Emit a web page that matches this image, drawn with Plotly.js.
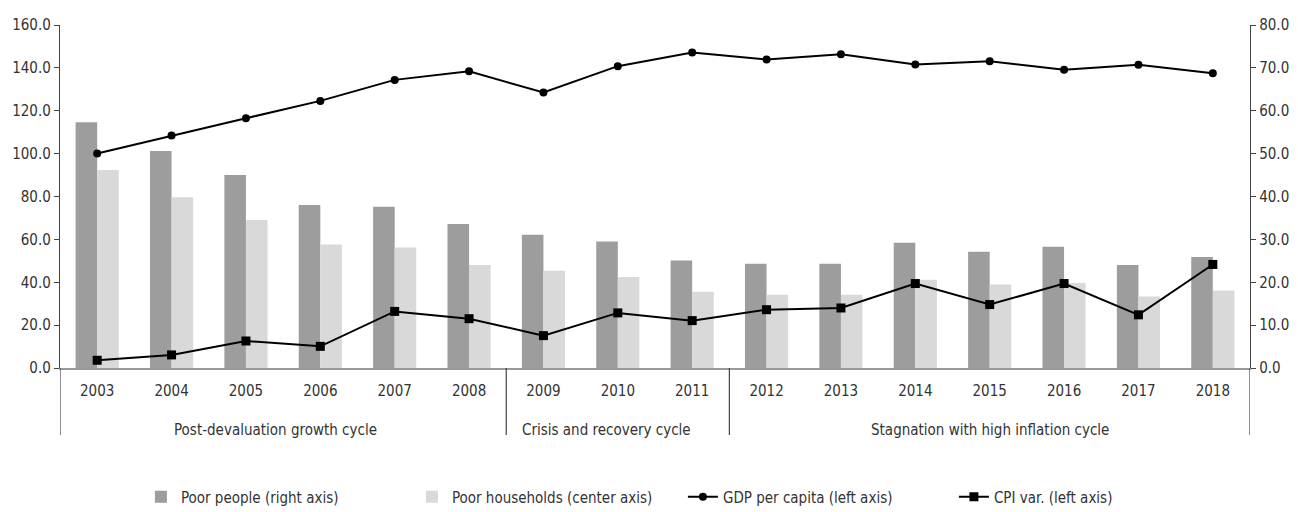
<!DOCTYPE html>
<html>
<head>
<meta charset="utf-8">
<script src="https://cdn.plot.ly/plotly-3.0.1.min.js"></script>
<style>
html,body{margin:0;padding:0;background:#fff;}
#chart{width:1298px;height:512px;}
</style>
</head>
<body>
<div id="chart"></div>
<script>
const years = ['2003','2004','2005','2006','2007','2008','2009','2010','2011','2012','2013','2014','2015','2016','2017','2018'];
const poorPeople = [57.3,50.6,45.0,38.0,37.6,33.6,31.1,29.5,25.1,24.3,24.3,29.2,27.1,28.3,24.0,25.9];
const poorHouseholds = [46.2,39.8,34.5,28.8,28.1,24.0,22.7,21.2,17.8,17.1,17.1,20.6,19.5,19.8,16.7,18.1];
const gdpPerCapita = [100.1,108.4,116.5,124.6,134.4,138.4,128.5,140.8,147.2,143.9,146.4,141.6,143.1,139.1,141.4,137.5];
const cpiVar = [3.6,6.1,12.6,10.1,26.4,23.0,15.1,25.7,22.1,27.2,28.0,39.4,29.6,39.4,24.8,48.3];
const cycles = [
  {label:'Post-devaluation growth cycle', center:2.4},
  {label:'Crisis and recovery cycle', center:6.85},
  {label:'Stagnation with high inflation cycle', center:12.0}
];
const separators = [-0.5, 5.5, 8.5, 15.5];

const FONT = '"Liberation Sans Narrow", "DejaVu Sans Condensed", "Roboto Condensed", sans-serif';
const TXT = '#333333';

const traces = [
  {type:'bar', name:'Poor people (right axis)', x:years, y:poorPeople, yaxis:'y',
   marker:{color:'#9d9d9d', line:{width:0}}},
  {type:'bar', name:'Poor households (center axis)', x:years, y:poorHouseholds, yaxis:'y',
   marker:{color:'#d9d9d9', line:{width:0}}},
  {type:'scatter', mode:'lines+markers', name:'GDP per capita (left axis)', x:years, y:gdpPerCapita, yaxis:'y2',
   line:{color:'#000', width:2}, marker:{symbol:'circle', size:8, color:'#000'}},
  {type:'scatter', mode:'lines+markers', name:'CPI var. (left axis)', x:years, y:cpiVar, yaxis:'y2',
   line:{color:'#000', width:2}, marker:{symbol:'square', size:9, color:'#000'}}
];

const shapes = separators.map(s => ({
  type:'line', xref:'x', yref:'paper', x0:s, x1:s, y0:0, y1:-0.195,
  line:{color:'#444', width:1.2}
}));

const annotations = cycles.map(c => ({
  xref:'x', yref:'paper', x:c.center, y:-0.181, text:c.label, showarrow:false,
  xanchor:'center', yanchor:'middle', font:{family:FONT, size:15, color:TXT}
}));

const layout = {
  width:1298, height:512,
  margin:{l:60, r:48, t:25, b:144, autoexpand:false},
  paper_bgcolor:'#fff', plot_bgcolor:'#fff',
  font:{family:FONT, size:15, color:TXT},
  barmode:'group', bargap:0.42, bargroupgap:0,
  showlegend:true,
  legend:{orientation:'h', x:0.068, xanchor:'left', y:-0.376, yanchor:'middle',
    entrywidth:226, entrywidthmode:'pixels', itemwidth:30,
    font:{family:FONT, size:15, color:TXT}, traceorder:'normal'},
  xaxis:{type:'category', range:[-0.5,15.5], showline:true, linecolor:'#999', linewidth:2,
    ticks:'', ticklabelstandoff:8, showgrid:false, zeroline:false, tickfont:{family:FONT, size:15, color:TXT}},
  yaxis:{side:'right', range:[0,80], dtick:10, tickformat:'.1f', showgrid:false, zeroline:false,
    showline:true, linecolor:'#444', linewidth:1.2, ticks:'outside', ticklen:5, tickcolor:'#444',
    tickfont:{family:FONT, size:15, color:TXT}},
  yaxis2:{overlaying:'y', side:'left', range:[0,160], dtick:20, tickformat:'.1f', showgrid:false, zeroline:false,
    showline:true, linecolor:'#444', linewidth:1.2, ticks:'outside', ticklen:5, tickcolor:'#444',
    tickfont:{family:FONT, size:15, color:TXT}},
  shapes:shapes, annotations:annotations
};

Plotly.newPlot('chart', traces, layout, {displayModeBar:false, staticPlot:true});
</script>
</body>
</html>
